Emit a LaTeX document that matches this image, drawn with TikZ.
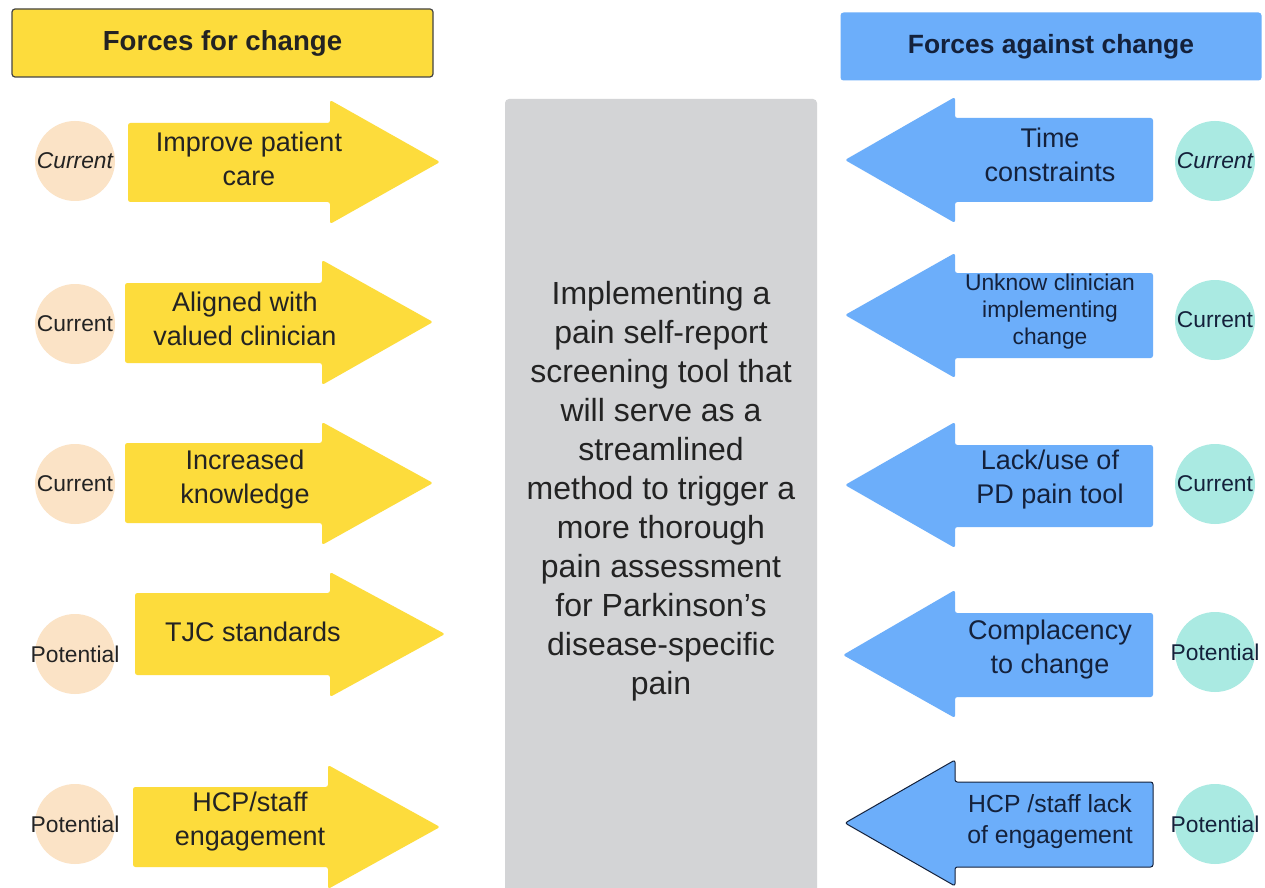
\documentclass[tikz,border=0pt]{standalone}
\usepackage{fontspec}
\setmainfont{Liberation Sans}

\definecolor{foryellow}{HTML}{FDDC3C}
\definecolor{againstblue}{HTML}{6CAEFA}
\definecolor{peach}{HTML}{FBE3C6}
\definecolor{aqua}{HTML}{AAEAE2}
\definecolor{boxgrey}{HTML}{D3D4D6}
\definecolor{inkdark}{HTML}{232323}
\definecolor{inknavy}{HTML}{14213B}

% keeps the state word from widening its circle
\newcommand{\statetext}[1]{\makebox[0pt]{#1}}

\begin{document}
\begin{tikzpicture}[x=0.5pt,y=-0.5pt,
  forarrow/.style={fill=foryellow, rounded corners=1.2pt},
  againstarrow/.style={fill=againstblue, rounded corners=1.2pt},
  forlabel/.style={text=inkdark, align=center, font=\fontsize{13.5}{17}\selectfont},
  againstlabel/.style={text=inknavy, align=center, font=\fontsize{13.5}{17}\selectfont},
  forstate/.style={circle, fill=peach, minimum size=40pt, inner sep=0pt,
    text=inkdark, font=\fontsize{11.4}{13}\selectfont},
  againststate/.style={circle, fill=aqua, minimum size=40pt, inner sep=0pt,
    text=inknavy, font=\fontsize{11.4}{13}\selectfont},
  header/.style={rounded corners=1.5pt, minimum width=210.5pt, minimum height=34pt,
    font=\bfseries\fontsize{13.2}{16}\selectfont}]
\clip (0,0) rectangle (1265,888);
\fill[white] (0,0) rectangle (1265,888);

% headers
\node[header, fill=foryellow, draw=inkdark!85, line width=0.6pt, text=inkdark,
  font=\bfseries\fontsize{13.8}{16}\selectfont]
  (forhdr) at (222.5,43) {Forces for change};
\node[header, fill=againstblue, text=inknavy]
  (againsthdr) at (1051,46.5) {Forces against change};

% middle column
\fill[boxgrey, rounded corners=2pt] (505,99) rectangle (817,900);
\node[align=center, text=inkdark, font=\fontsize{16}{19.5}\selectfont]
  (goal) at (661,491) {Implementing a\\pain self-report\\screening tool that\\will serve as a\\streamlined\\method to trigger a\\more thorough\\pain assessment\\for Parkinson’s\\disease-specific\\pain};

% forces for change
\fill[forarrow] (128,123) -- (330,123) -- (330,100) -- (440,162) -- (330,224) -- (330,202) -- (128,202) -- cycle;
\fill[forarrow] (125,283) -- (322,283) -- (322,260) -- (433,322) -- (322,385) -- (322,363) -- (125,363) -- cycle;
\fill[forarrow] (125,443) -- (322,443) -- (322,422) -- (433,483) -- (322,545) -- (322,523) -- (125,523) -- cycle;
\fill[forarrow] (135,593) -- (330,593) -- (330,572) -- (445,634) -- (330,697) -- (330,675) -- (135,675) -- cycle;
\fill[forarrow] (133,787) -- (328,787) -- (328,765) -- (440,827) -- (328,889) -- (328,867) -- (133,867) -- cycle;

\node[forlabel] (f1) at (249,159) {Improve patient\\care};
\node[forlabel] (f2) at (245,319) {Aligned with\\valued clinician};
\node[forlabel] (f3) at (245,480) {Increased\\knowledge};
\node[forlabel] (f4) at (253,632) {TJC standards};
\node[forlabel] (f5) at (250,822) {HCP/staff\\engagement};

\node[forstate] (fs1) at (75,161) {\statetext{\itshape Current}};
\node[forstate] (fs2) at (75,324) {\statetext{Current}};
\node[forstate] (fs3) at (75,484) {\statetext{Current}};
\node[forstate] (fs4) at (75,654) {\statetext{Potential}};
\node[forstate] (fs5) at (75,824) {\statetext{Potential}};

% forces against change
\fill[againstarrow] (1153,118) -- (955,118) -- (955,97) -- (845,160) -- (955,223) -- (955,202) -- (1153,202) -- cycle;
\fill[againstarrow] (1153,273) -- (955,273) -- (955,253) -- (845,315) -- (955,378) -- (955,358) -- (1153,358) -- cycle;
\fill[againstarrow] (1153,445) -- (955,445) -- (955,422) -- (845,485) -- (955,548) -- (955,527) -- (1153,527) -- cycle;
\fill[againstarrow] (1153,613) -- (955,613) -- (955,590) -- (843,655) -- (955,718) -- (955,697) -- (1153,697) -- cycle;
\filldraw[againstarrow, draw=inknavy, line width=0.5pt] (1153,782) -- (955,782) -- (955,760) -- (845,823) -- (955,886) -- (955,867) -- (1153,867) -- cycle;

\node[againstlabel] (a1) at (1050,155) {Time\\constraints};
\node[againstlabel, font=\fontsize{11.4}{13.5}\selectfont] (a2) at (1050,312) {Unknow clinician\\implementing\\change};
\node[againstlabel] (a3) at (1050,480) {Lack/use of\\PD pain tool};
\node[againstlabel] (a4) at (1050,650) {Complacency\\to change};
\node[againstlabel, font=\fontsize{12.4}{15.5}\selectfont] (a5) at (1050,822) {HCP /staff lack\\of engagement};

\node[againststate] (as1) at (1215,161) {\statetext{\itshape Current}};
\node[againststate] (as2) at (1215,320) {\statetext{Current}};
\node[againststate] (as3) at (1215,484) {\statetext{Current}};
\node[againststate] (as4) at (1215,652) {\statetext{Potential}};
\node[againststate] (as5) at (1215,824) {\statetext{Potential}};
\end{tikzpicture}
\end{document}
